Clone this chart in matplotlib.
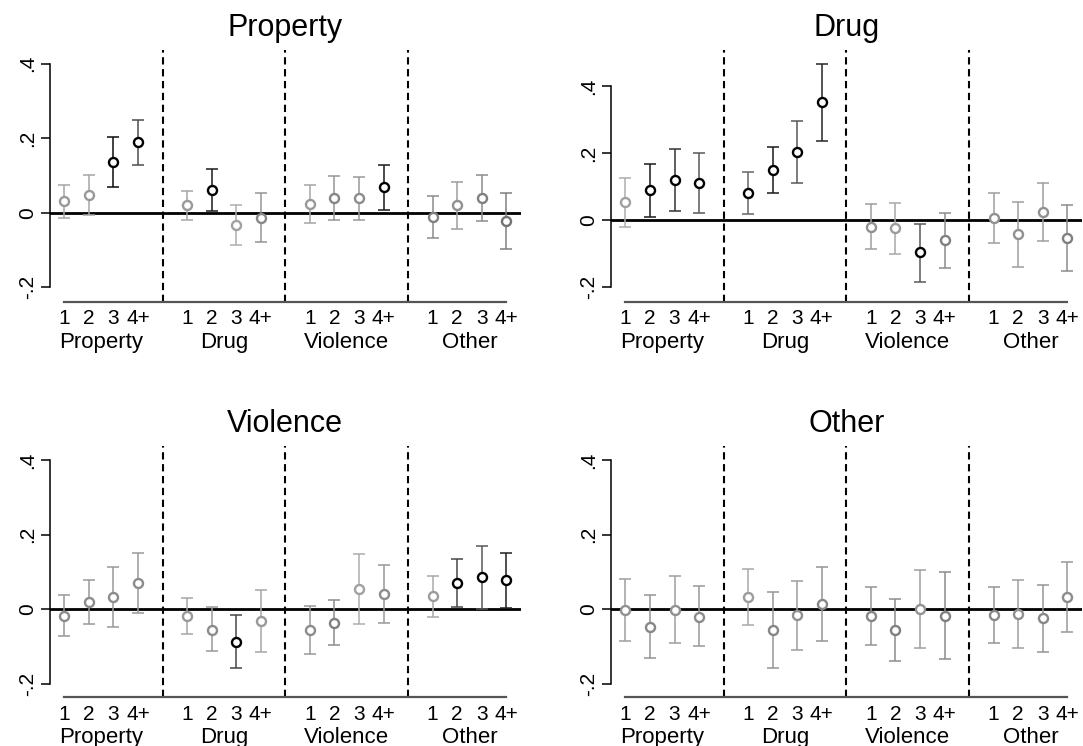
import matplotlib
matplotlib.use('Agg')
import matplotlib.pyplot as plt
import matplotlib.transforms as mtransforms

plt.rcParams['font.family'] = ['Liberation Sans', 'DejaVu Sans']

# ---------------- data ----------------
groups = ['Property', 'Drug', 'Violence', 'Other']
counts = ['1', '2', '3', '4+']
panel_titles = ['Property', 'Drug', 'Violence', 'Other']

# order: Property 1,2,3,4+ | Drug 1..4+ | Violence 1..4+ | Other 1..4+
property_est = [0.031, 0.047, 0.136, 0.189, 0.020, 0.061, -0.032, -0.013,
                0.024, 0.040, 0.040, 0.068, -0.012, 0.021, 0.040, -0.022]
property_lo = [-0.013, -0.005, 0.069, 0.127, -0.019, 0.005, -0.086, -0.079,
               -0.027, -0.020, -0.019, 0.007, -0.069, -0.043, -0.022, -0.098]
property_hi = [0.074, 0.100, 0.203, 0.250, 0.059, 0.118, 0.021, 0.053,
               0.075, 0.098, 0.096, 0.129, 0.044, 0.083, 0.100, 0.053]
property_sig = [0, 0, 1, 1, 0, 1, 0, 0, 0, 0, 0, 1, 0, 0, 0, 0]

drug_est = [0.054, 0.089, 0.120, 0.111, 0.082, 0.151, 0.204, 0.353,
            -0.020, -0.024, -0.096, -0.059, 0.007, -0.041, 0.024, -0.053]
drug_lo = [-0.019, 0.011, 0.028, 0.021, 0.019, 0.081, 0.110, 0.237,
           -0.087, -0.100, -0.184, -0.142, -0.067, -0.141, -0.063, -0.151]
drug_hi = [0.127, 0.168, 0.213, 0.201, 0.143, 0.220, 0.298, 0.468,
           0.048, 0.053, -0.010, 0.023, 0.082, 0.056, 0.112, 0.046]
drug_sig = [0, 1, 1, 1, 1, 1, 1, 1, 0, 0, 1, 0, 0, 0, 0, 0]

violence_est = [-0.018, 0.019, 0.032, 0.069, -0.019, -0.055, -0.088, -0.032,
                -0.056, -0.037, 0.054, 0.040, 0.035, 0.070, 0.086, 0.077]
violence_lo = [-0.073, -0.040, -0.049, -0.011, -0.068, -0.114, -0.159, -0.115,
               -0.121, -0.097, -0.040, -0.038, -0.021, 0.005, 0.001, 0.004]
violence_hi = [0.038, 0.079, 0.114, 0.151, 0.030, 0.005, -0.015, 0.051,
               0.008, 0.024, 0.149, 0.119, 0.090, 0.135, 0.170, 0.150]
violence_sig = [0, 0, 0, 0, 0, 0, 1, 0, 0, 0, 0, 0, 0, 1, 1, 1]

other_est = [-0.003, -0.047, -0.002, -0.021, 0.032, -0.056, -0.017, 0.013,
             -0.018, -0.056, 0.001, -0.018, -0.016, -0.013, -0.025, 0.033]
other_lo = [-0.085, -0.132, -0.092, -0.100, -0.044, -0.157, -0.110, -0.085,
            -0.096, -0.140, -0.104, -0.134, -0.090, -0.105, -0.115, -0.063]
other_hi = [0.080, 0.038, 0.089, 0.061, 0.107, 0.045, 0.076, 0.113,
            0.060, 0.027, 0.106, 0.099, 0.058, 0.078, 0.065, 0.126]
other_sig = [0] * 16

# ---------------- styles ----------------
# grey level of each error bar (style only)
bar_grey = [
    [0.65, 0.65, 0.05, 0.30, 0.65, 0.10, 0.68, 0.58, 0.65, 0.58, 0.60, 0.10, 0.55, 0.62, 0.55, 0.50],
    [0.68, 0.10, 0.20, 0.35, 0.40, 0.10, 0.35, 0.15, 0.62, 0.66, 0.35, 0.55, 0.62, 0.62, 0.62, 0.55],
    [0.60, 0.60, 0.60, 0.60, 0.65, 0.60, 0.28, 0.65, 0.60, 0.55, 0.68, 0.60, 0.66, 0.28, 0.35, 0.12],
    [0.62, 0.58, 0.62, 0.60, 0.66, 0.58, 0.62, 0.58, 0.58, 0.55, 0.62, 0.55, 0.58, 0.62, 0.58, 0.60],
]

W, H = 1083, 746
boxes = [  # left, top, right, bottom in pixels
    (49.6, 50.0, 521.0, 301.7),
    (610.7, 50.0, 1082.0, 301.7),
    (49.6, 445.7, 521.0, 697.3),
    (610.7, 445.7, 1082.0, 697.3),
]
ylims = [(-0.239, 0.437), (-0.2435, 0.509), (-0.237, 0.4385), (-0.237, 0.4385)]

panels = [
    (property_est, property_lo, property_hi, property_sig),
    (drug_est, drug_lo, drug_hi, drug_sig),
    (violence_est, violence_lo, violence_hi, violence_sig),
    (other_est, other_lo, other_hi, other_sig),
]

fig = plt.figure(figsize=(W / 100, H / 100), dpi=100)

positions = [g * 5 + i + 1 for g in range(len(groups)) for i in range(len(counts))]
tick_labels = [c for _ in groups for c in counts]

for k, (est, lo, hi, sig) in enumerate(panels):
    l, t, r, b = boxes[k]
    ax = fig.add_axes([l / W, 1 - b / H, (r - l) / W, (b - t) / H])
    ax.set_xlim(0.4, 19.6)
    ax.set_ylim(*ylims[k])
    for s in ['top', 'right']:
        ax.spines[s].set_visible(False)
    ax.spines['left'].set_bounds(-0.2, 0.4)
    ax.spines['left'].set_linewidth(1.1)
    ax.spines['bottom'].set_bounds(1, 19)
    ax.spines['bottom'].set_color('#555555')
    ax.spines['bottom'].set_linewidth(1.6)

    ax.axhline(0, color='black', lw=2.0, zorder=1)
    for xv in [5, 10, 15]:
        ax.axvline(xv, color='black', lw=1.5, ls=(0, (3.5, 2.2)), zorder=1)

    for j, x in enumerate(positions):
        g = bar_grey[k][j]
        bc = (g, g, g)
        mc = 'black' if sig[j] else (g - 0.05, g - 0.05, g - 0.05)
        ax.errorbar([x], [est[j]], yerr=[[est[j] - lo[j]], [hi[j] - est[j]]],
                    fmt='none', ecolor=bc, elinewidth=1.1, capsize=4.2,
                    capthick=1.1, zorder=2)
        ax.plot([x], [est[j]], 'o', ms=6.5, mfc='white', mec=mc, mew=1.7, zorder=3)

    ax.set_yticks([-0.2, 0, 0.2, 0.4])
    ax.set_yticklabels(['-.2', '0', '.2', '.4'], rotation=90, va='center', fontsize=15)
    ax.tick_params(axis='y', length=6.5, width=1.1, pad=2.5)
    ax.set_xticks(positions)
    ax.set_xticklabels(tick_labels, fontsize=15)
    ax.tick_params(axis='x', length=0, pad=5.5)

    trans = mtransforms.blended_transform_factory(ax.transData, ax.transAxes)
    for g, name in enumerate(groups):
        ax.annotate(name, xy=(g * 5 + 2.5, 0), xycoords=trans,
                    xytext=(0, -30), textcoords='offset pixels',
                    ha='center', va='top', fontsize=16)

    ax.text(0.5, 1 + 14 / (b - t), panel_titles[k], transform=ax.transAxes,
            ha='center', va='baseline', fontsize=22)

fig.savefig('out.png', dpi=100)
